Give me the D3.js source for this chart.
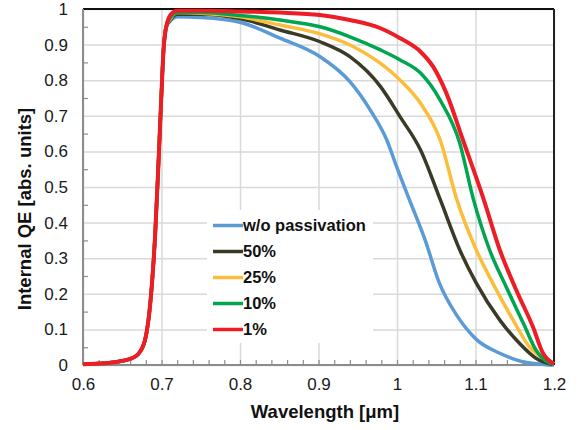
<!DOCTYPE html>
<html>
<head>
<meta charset="utf-8">
<script src="https://cdn.jsdelivr.net/npm/d3@7"></script>
<style>
  body { margin: 0; background: #fff; }
  svg { font-family: "Liberation Sans", Arial, sans-serif; }
  .grid line { stroke: #d9d9d9; stroke-width: 1.5; }
  .grid path { display: none; }
  .minor line { stroke: #8c8c8c; stroke-width: 1.2; }
  .minor path { display: none; }
  .labels path, .labels line { display: none; }
  .labels text { font-size: 17px; fill: #1a1a1a; }
</style>
</head>
<body>
<svg id="chart" width="580" height="430"></svg>
<script>
// shared absorption edge (all curves lie on top of each other here)
const riseWl = [0.6, 0.62, 0.64, 0.66, 0.67, 0.679, 0.686, 0.692, 0.696, 0.6996, 0.7026, 0.706];
const riseQe = [0.002, 0.004, 0.008, 0.017, 0.03, 0.07, 0.18, 0.37, 0.56, 0.744, 0.885, 0.95];

const seriesNames = ['w/o passivation', '50%', '25%', '10%', '1%'];
const seriesColors = ['#5b9bd5', '#3b3a27', '#fbbd3a', '#00a550', '#ee1c25'];

const blueWl = [0.712, 0.72, 0.75, 0.8, 0.851, 0.902, 0.94, 0.966, 0.987, 0.9995, 1.016, 1.036, 1.054, 1.076, 1.101, 1.131, 1.16, 1.189, 1.2];
const blueQe = [0.968, 0.978, 0.976, 0.963, 0.918, 0.866, 0.796, 0.716, 0.632, 0.557, 0.463, 0.35, 0.23, 0.14, 0.072, 0.033, 0.009, 0.001, 0];

const blackWl = [0.712, 0.72, 0.75, 0.8, 0.851, 0.902, 0.94, 0.979, 1.004, 1.03, 1.055, 1.08, 1.101, 1.131, 1.156, 1.177, 1.198];
const blackQe = [0.972, 0.985, 0.985, 0.973, 0.941, 0.908, 0.866, 0.782, 0.697, 0.604, 0.465, 0.323, 0.23, 0.126, 0.061, 0.019, 0.001];

const yellowWl = [0.712, 0.72, 0.75, 0.8, 0.851, 0.902, 0.94, 0.979, 1.004, 1.03, 1.055, 1.076, 1.101, 1.122, 1.148, 1.169, 1.19, 1.2];
const yellowQe = [0.975, 0.99, 0.988, 0.978, 0.955, 0.93, 0.899, 0.847, 0.8, 0.735, 0.632, 0.466, 0.323, 0.23, 0.126, 0.05, 0.014, 0.003];

const greenWl = [0.712, 0.72, 0.75, 0.8, 0.851, 0.902, 0.94, 0.979, 1.004, 1.03, 1.055, 1.08, 1.097, 1.118, 1.139, 1.161, 1.177, 1.194, 1.2];
const greenQe = [0.978, 0.99, 0.99, 0.982, 0.969, 0.95, 0.922, 0.885, 0.857, 0.82, 0.744, 0.623, 0.468, 0.323, 0.22, 0.117, 0.042, 0.006, 0.003];

const redWl = [0.712, 0.72, 0.75, 0.8, 0.851, 0.902, 0.94, 0.979, 1.004, 1.03, 1.046, 1.063, 1.084, 1.11, 1.131, 1.152, 1.173, 1.186, 1.198, 1.2];
const redQe = [0.985, 0.995, 0.995, 0.993, 0.99, 0.983, 0.969, 0.946, 0.918, 0.88, 0.838, 0.763, 0.632, 0.468, 0.323, 0.21, 0.108, 0.033, 0.006, 0.004];

const xTicks = [0.6, 0.7, 0.8, 0.9, 1.0, 1.1, 1.2];
const xTickLabels = ['0.6', '0.7', '0.8', '0.9', '1', '1.1', '1.2'];
const yTicks = [0, 0.1, 0.2, 0.3, 0.4, 0.5, 0.6, 0.7, 0.8, 0.9, 1];
const yTickLabels = ['0', '0.1', '0.2', '0.3', '0.4', '0.5', '0.6', '0.7', '0.8', '0.9', '1'];

const svg = d3.select('#chart');
const margin = {top: 9, right: 26, bottom: 65, left: 83};
const width = +svg.attr('width') - margin.left - margin.right;
const height = +svg.attr('height') - margin.top - margin.bottom;
const g = svg.append('g').attr('transform', 'translate(' + margin.left + ',' + margin.top + ')');

const x = d3.scaleLinear().domain([0.6, 1.2]).range([0, width]);
const y = d3.scaleLinear().domain([0, 1]).range([height, 0]);

// gridlines
g.append('g').attr('class', 'grid')
  .attr('transform', 'translate(0,' + height + ')')
  .call(d3.axisBottom(x).tickValues(xTicks).tickSize(-height).tickFormat(''));
g.append('g').attr('class', 'grid')
  .call(d3.axisLeft(y).tickValues(yTicks).tickSize(-width).tickFormat(''));

// legend background hides the grid behind it
g.append('rect')
  .attr('x', 124).attr('y', 201)
  .attr('width', 166).attr('height', 133)
  .attr('fill', '#fff');

// minor ticks (inside)
g.append('g').attr('class', 'minor')
  .attr('transform', 'translate(0,' + height + ')')
  .call(d3.axisBottom(x).tickValues(d3.range(0.62, 1.2, 0.02)).tickSize(-5).tickFormat(''));
g.append('g').attr('class', 'minor')
  .call(d3.axisLeft(y).tickValues(d3.range(0.05, 1, 0.1)).tickSize(-5).tickFormat(''));

// frame
g.append('line').attr('x1', 0).attr('x2', width).attr('y1', 0).attr('y2', 0)
  .attr('stroke', '#111').attr('stroke-width', 2);
g.append('line').attr('x1', width).attr('x2', width).attr('y1', 0).attr('y2', height)
  .attr('stroke', '#222').attr('stroke-width', 2);
g.append('line').attr('x1', 0).attr('x2', 0).attr('y1', 0).attr('y2', height)
  .attr('stroke', '#8c8c8c').attr('stroke-width', 2);
g.append('line').attr('x1', 0).attr('x2', width).attr('y1', height).attr('y2', height)
  .attr('stroke', '#8c8c8c').attr('stroke-width', 2);

// tick labels
g.append('g').attr('class', 'labels')
  .attr('transform', 'translate(0,' + height + ')')
  .call(d3.axisBottom(x).tickValues(xTicks).tickSize(0).tickPadding(13)
    .tickFormat((d, i) => xTickLabels[i]));
g.append('g').attr('class', 'labels')
  .call(d3.axisLeft(y).tickValues(yTicks).tickSize(0).tickPadding(15)
    .tickFormat((d, i) => yTickLabels[i]));

// curves
const allWl = [blueWl, blackWl, yellowWl, greenWl, redWl];
const allQe = [blueQe, blackQe, yellowQe, greenQe, redQe];
const series = seriesNames.map((name, i) => ({
  name: name,
  color: seriesColors[i],
  values: riseWl.map((w, j) => [w, riseQe[j]])
    .concat(allWl[i].map((w, j) => [w, allQe[i][j]]))
}));

const line = d3.line()
  .x(d => x(d[0]))
  .y(d => y(d[1]))
  .curve(d3.curveMonotoneX);

g.selectAll('.series')
  .data(series)
  .enter().append('path')
  .attr('class', 'series')
  .attr('fill', 'none')
  .attr('stroke', d => d.color)
  .attr('stroke-width', (d, i) => i === 4 ? 4 : 3.5)
  .attr('stroke-linejoin', 'round')
  .attr('d', d => line(d.values));

// legend
const legend = g.selectAll('.legend')
  .data(series)
  .enter().append('g')
  .attr('class', 'legend')
  .attr('transform', (d, i) => 'translate(130,' + (216.5 + i * 26) + ')');
legend.append('line')
  .attr('x1', 0).attr('x2', 30)
  .attr('stroke', d => d.color)
  .attr('stroke-width', 3.5);
legend.append('text')
  .attr('x', 30)
  .attr('dy', '0.36em')
  .style('font-size', '16.5px')
  .style('font-weight', 'bold')
  .style('fill', '#111')
  .text(d => d.name);

// axis titles
svg.append('text')
  .attr('x', 325).attr('y', 418)
  .style('text-anchor', 'middle')
  .style('font-size', '18.5px')
  .style('font-weight', 'bold')
  .style('fill', '#111')
  .text('Wavelength [μm]');

svg.append('text')
  .attr('transform', 'translate(31,209) rotate(-90)')
  .style('text-anchor', 'middle')
  .style('font-size', '18.5px')
  .style('font-weight', 'bold')
  .style('fill', '#111')
  .text('Internal QE [abs. units]');
</script>
</body>
</html>
